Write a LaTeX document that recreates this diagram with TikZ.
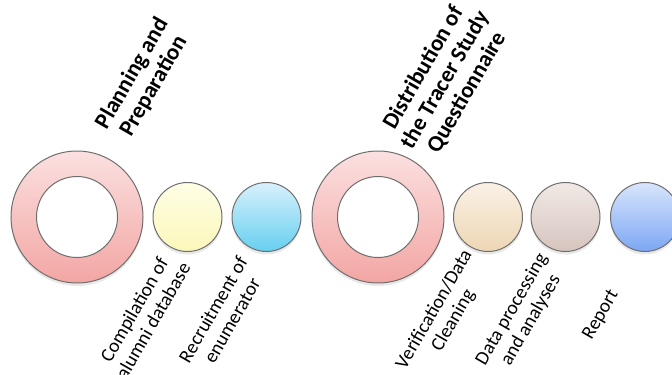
\documentclass[tikz,border=0pt]{standalone}
\usepackage{fontspec}
\setmainfont{Carlito}
\usetikzlibrary{shadows}
\definecolor{pinkT}{RGB}{251,224,224}
\definecolor{pinkB}{RGB}{242,166,163}
\definecolor{yelT}{RGB}{254,254,230}
\definecolor{yelB}{RGB}{252,247,186}
\definecolor{cyanT}{RGB}{216,241,252}
\definecolor{cyanB}{RGB}{102,207,240}
\definecolor{tanT}{RGB}{250,241,230}
\definecolor{tanB}{RGB}{238,214,180}
\definecolor{mauveT}{RGB}{241,233,229}
\definecolor{mauveB}{RGB}{214,196,190}
\definecolor{bluT}{RGB}{216,229,252}
\definecolor{bluB}{RGB}{124,167,244}
\definecolor{rim}{RGB}{110,110,110}
\tikzset{
  ring/.style={circle, minimum size=132bp, inner sep=0, draw=rim, line width=1bp,
    top color=pinkT, bottom color=pinkB,
    drop shadow={shadow xshift=0bp, shadow yshift=-3bp, opacity=0.18}},
  hole/.style={circle, minimum size=81bp, inner sep=0, draw=rim, line width=1bp, fill=white},
  dot/.style={circle, minimum size=69bp, inner sep=0, draw=rim, line width=1bp,
    drop shadow={shadow xshift=0bp, shadow yshift=-3bp, opacity=0.18}},
  lbl/.style={rotate=60, align=center, inner sep=0, font=\fontsize{19.5}{22}\selectfont},
  head/.style={rotate=60, align=center, inner sep=0, font=\bfseries\fontsize{23}{25}\selectfont}
}
\begin{document}
\begin{tikzpicture}[x=1bp, y=1bp]
		\useasboundingbox (0,0) rectangle (672,374);
		\node (A)[ring] at (77,157){};
		\node (Ah)[hole] at (A.center){};
		\node (B)[dot, top color=yelT, bottom color=yelB] at ([shift={(110.5,0)}]A.center){};
		\node (C)[dot, top color=cyanT, bottom color=cyanB] at ([shift={(79,0)}]B.center){};
		%
		\node (D)[ring] at ([shift={(111.5,0)}]C.center){};
		\node (Dh)[hole] at (D.center){};
		\node (E)[dot, top color=tanT, bottom color=tanB] at ([shift={(110,0)}]D.center){};
		\node (F)[dot, top color=mauveT, bottom color=mauveB] at ([shift={(77.5,0)}]E.center){};
		\node (G)[dot, top color=bluT, bottom color=bluB] at ([shift={(79.5,0)}]F.center){};
		%
		\node (pA)[head] at ([shift={(66,137)}]A.center){Planning and\\Preparation};
		\node (pD)[head] at ([shift={(67,137)}]D.center){Distribution of\\the Tracer Study\\Questionnaire};
		%
		\node (lB)[lbl] at ([shift={(-44,-98)}]B.center){Compilation of\\alumni database};
		\node (lC)[lbl] at ([shift={(-44,-98)}]C.center){Recruitment of\\enumerator};
		\node (lE)[lbl] at ([shift={(-44,-98)}]E.center){Verification/Data\\Cleaning};
		\node (lF)[lbl] at ([shift={(-44,-98)}]F.center){Data processing\\and analyses};
		\node (lG)[lbl] at ([shift={(-44,-98)}]G.center){Report};
	\end{tikzpicture}
\end{document}
